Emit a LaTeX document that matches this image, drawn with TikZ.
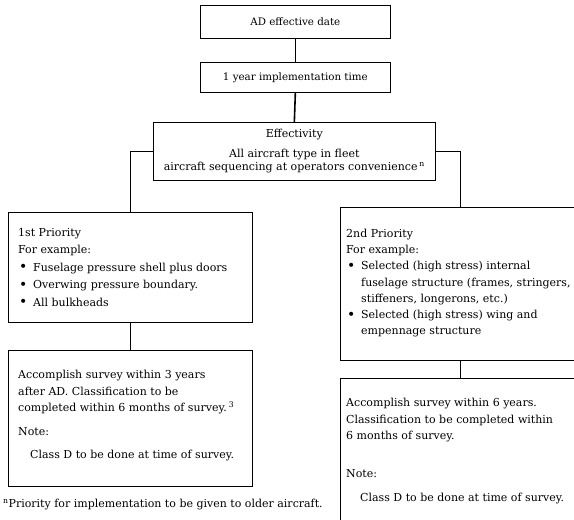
\documentclass[tikz,border=0pt]{standalone}
\usepackage{fontspec}
\setmainfont{DejaVu Serif}
\newcommand\bul{\makebox[15pt][l]{\hspace{1pt}\raisebox{-0.5pt}{\fontsize{14}{14}\selectfont\textbullet}}}
\newcommand\ind{\hspace*{15pt}}
\begin{document}
\begin{tikzpicture}[x=1pt,y=-1pt,
  box/.style={draw, line width=0.7pt, rectangle, inner sep=0pt, anchor=north west},
  conn/.style={line width=1.6pt},
  txt/.style={inner sep=0pt, anchor=north west, align=left, font=\fontsize{11}{16.5}\selectfont},
  ctxt/.style={font=\fontsize{10.3}{13}\selectfont},
  etxt/.style={font=\fontsize{11}{13}\selectfont}]
\useasboundingbox (0,0) rectangle (574,520);
\clip (0,0) rectangle (574,520);
% boxes
\node[box, ctxt, minimum width=190pt, minimum height=33pt] (b1) at (200,5) {AD effective date};
\node[box, ctxt, minimum width=190pt, minimum height=30pt] (b2) at (200,62) {1 year implementation time};
\node[box, etxt, align=center, minimum width=282pt, minimum height=58pt] (b3) at (153,122)
  {Effectivity\\[7pt]All aircraft type in fleet\\aircraft sequencing at operators convenience\,\textsuperscript{n}};
\node[box, minimum width=244pt, minimum height=110pt] (b4) at (8,212) {};
\node[box, minimum width=240pt, minimum height=153pt] (b5) at (340,207) {};
\node[box, minimum width=244pt, minimum height=136pt] (b6) at (8,350) {};
\node[box, minimum width=240pt, minimum height=160pt] (b7) at (340,378) {};
% texts
\node[txt, font=\fontsize{11}{17.5}\selectfont] (t4) at (18,228) {1st Priority\\For example:\\\bul Fuselage pressure shell plus doors\\\bul Overwing pressure boundary.\\\bul All bulkheads};
\node[txt, font=\fontsize{11}{16.2}\selectfont] (t5) at (346,229) {2nd Priority\\For example:\\\bul Selected (high stress) internal\\\ind fuselage structure (frames, stringers,\\\ind stiffeners, longerons, etc.)\\\bul Selected (high stress) wing and\\\ind empennage structure};
\node[txt] (t6) at (18,370) {Accomplish survey within 3 years\\after AD. Classification to be\\completed within 6 months of survey.\,\textsuperscript{3}\\[7pt]Note:\\[7pt]\hspace*{12pt}Class D to be done at time of survey.};
\node[txt] (t7) at (346,398) {Accomplish survey within 6 years.\\Classification to be completed within\\6 months of survey.\\[21pt]Note:\\[8pt]\hspace*{14pt}Class D to be done at time of survey.};
\node[txt] (fn) at (3,499) {\textsuperscript{n}Priority for implementation to be given to older aircraft.};
% connectors
\draw[conn] (b1.south) -- (b2.north);
\draw[conn] (b2.south) -- (b3.north);
\draw[conn] (b3.west) -| (b4.north);
\draw[conn] (b3.east) -| (b5.north);
\draw[conn] (b4.south) -- (b6.north);
\draw[conn] (b5.south) -- (b7.north);
\end{tikzpicture}
\end{document}
